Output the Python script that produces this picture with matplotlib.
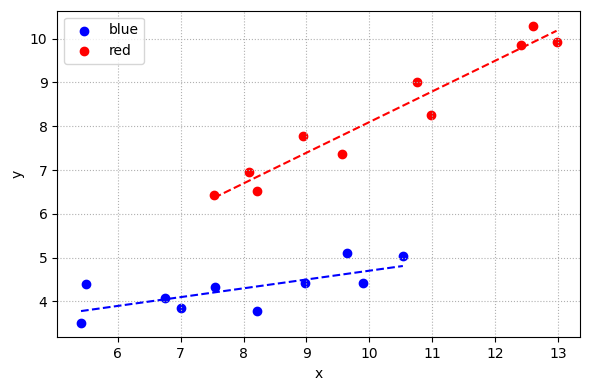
import numpy as np
import matplotlib
matplotlib.use("Agg")
import matplotlib.pyplot as plt

blue_x = [5.42, 5.50, 6.76, 7.00, 7.54, 8.21, 8.97, 9.65, 9.90, 10.53]
blue_y = [3.52, 4.39, 4.07, 3.85, 4.32, 3.78, 4.42, 5.10, 4.42, 5.03]
red_x = [7.53, 8.09, 8.21, 8.94, 9.57, 10.76, 10.98, 12.41, 12.59, 12.97]
red_y = [6.43, 6.95, 6.53, 7.77, 7.36, 9.02, 8.26, 9.86, 10.30, 9.93]

fig, ax = plt.subplots(figsize=(5.9, 3.9), dpi=100)
for xs, ys, c, lab in [(blue_x, blue_y, "blue", "blue"), (red_x, red_y, "red", "red")]:
    xs = np.array(xs); ys = np.array(ys)
    ax.scatter(xs, ys, color=c, label=lab)
    m, b = np.polyfit(xs, ys, 1)
    xl = np.array([xs.min(), xs.max()])
    ax.plot(xl, m * xl + b, "--", color=c)
ax.set_xlabel("x")
ax.set_ylabel("y")
ax.grid(True, linestyle=":", color="#b0b0b0")
ax.legend(loc="upper left")
fig.subplots_adjust(left=0.097, right=0.9836, top=0.9726, bottom=0.135)
fig.savefig("out.png")
